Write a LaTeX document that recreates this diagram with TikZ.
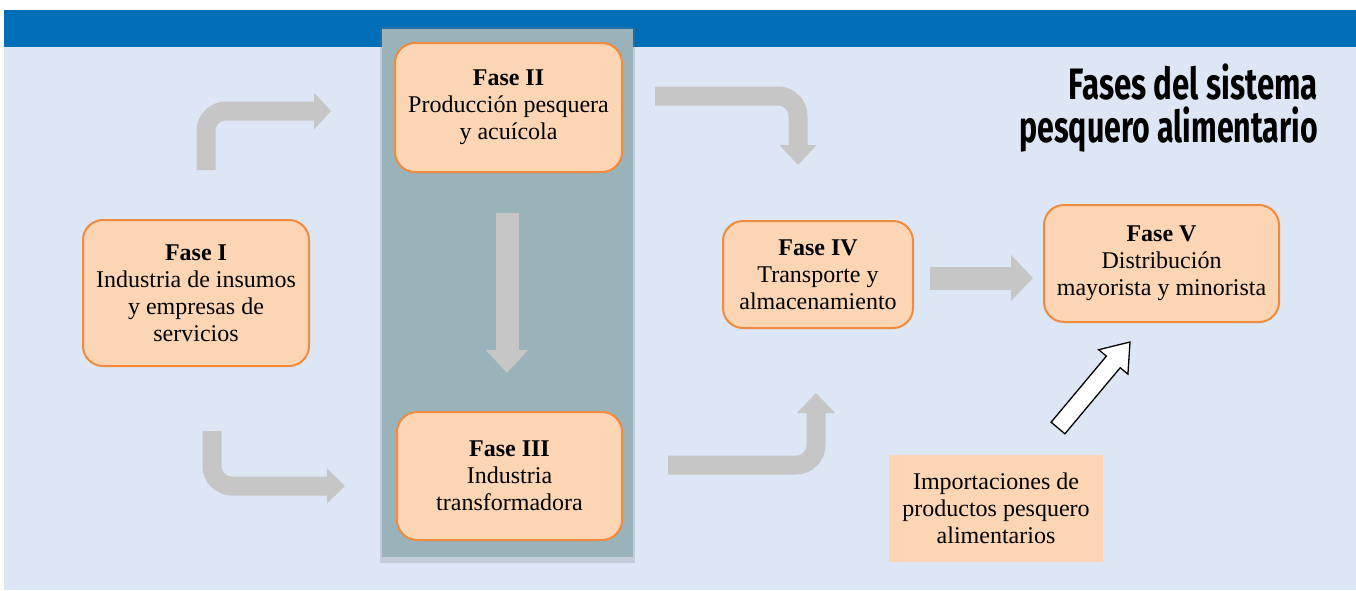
\documentclass[tikz,border=0pt]{standalone}
\usepackage{fontspec}
\setmainfont{Liberation Serif}
\newfontfamily\titlefont{Fira Sans}
\usetikzlibrary{arrows.meta,shadows}
\definecolor{bandblue}{HTML}{006DB7}
\definecolor{bgblue}{HTML}{DCE6F5}
\definecolor{panelgray}{HTML}{9AB2BA}
\definecolor{arrowgray}{HTML}{C6C6C6}
\definecolor{peach}{HTML}{FCD5B4}
\definecolor{orangeline}{HTML}{F08A3C}
\tikzset{
  phase/.style={draw=orangeline, line width=2pt, fill=peach, rounded corners=20pt,
    align=center, inner sep=0pt, font=\fontsize{24}{27}\selectfont},
  plainbox/.style={fill=peach, align=center, inner sep=0pt, font=\fontsize{24}{27}\selectfont},
  grayarrow/.style={draw=arrowgray, line width=#1, rounded corners=20pt},
  grayarrow/.default=19pt,
  titletext/.style={anchor=base east, inner sep=0pt, font=\titlefont\bfseries\fontsize{44}{44}\selectfont}
}
\begin{document}
\begin{tikzpicture}[x=1pt,y=-1pt]
\useasboundingbox (0,0) rectangle (1356,590);
\fill[white] (0,0) rectangle (1356,590);
\fill[bgblue] (4,10) rectangle (1356,590);
\fill[bandblue] (4,10) rectangle (1356,47);
% panel
\node[fill=panelgray, minimum width=251pt, minimum height=528pt, inner sep=0pt,
  drop shadow={opacity=0.25, shadow xshift=0pt, shadow yshift=-2pt, shadow scale=1.015}] (panel) at (507.5,293) {};
% title
\node[titletext] (t1) at (1318,99) {\scalebox{0.71}[1]{Fases del sistema}};
\node[titletext] (t2) at (1318,142) {\scalebox{0.69}[1]{pesquero alimentario}};
% boxes
\node[phase, minimum width=226pt, minimum height=146pt] (f1) at (196,293)
  {\textbf{Fase I}\\Industria de insumos\\y empresas de\\servicios};
\node[phase, minimum width=227pt, minimum height=129pt] (f2) at (508.5,107.5)
  {\textbf{Fase II}\\Producción pesquera\\y acuícola};
\node[phase, minimum width=225pt, minimum height=128pt] (f3) at (509.5,476)
  {\textbf{Fase III}\\Industria\\transformadora};
\node[phase, minimum width=190pt, minimum height=107pt] (f4) at (818,274.5)
  {\textbf{Fase IV}\\Transporte y\\almacenamiento};
\node[phase, minimum width=235pt, minimum height=117pt] (f5) at (1161.5,263.5)
  {\textbf{Fase V}\\Distribución\\mayorista y minorista};
\node[plainbox, minimum width=214pt, minimum height=107pt] (imp) at (996,508.5)
  {Importaciones de\\productos pesquero\\alimentarios};
% arrow coordinates
\coordinate (a1s) at (206,170); \coordinate (a1c) at (206,111); \coordinate (a1e) at (331,111);
\coordinate (a2s) at (212,431); \coordinate (a2c) at (212,486); \coordinate (a2e) at (345,486);
\coordinate (a3s) at (655,96);  \coordinate (a3c) at (798,96);  \coordinate (a3e) at (798,165);
\coordinate (a4s) at (668,465); \coordinate (a4c) at (816,465); \coordinate (a4e) at (816,393);
\coordinate (a5s) at (507,213); \coordinate (a5e) at (507,373);
\coordinate (a6s) at (930,278); \coordinate (a6e) at (1033,278);
\draw[grayarrow, -{Triangle[length=17pt,width=36pt]}] (a1s) -- (a1c) -- (a1e);
\draw[grayarrow, -{Triangle[length=18pt,width=34pt]}] (a2s) -- (a2c) -- (a2e);
\draw[grayarrow, -{Triangle[length=20pt,width=36pt]}] (a3s) -- (a3c) -- (a3e);
\draw[grayarrow, -{Triangle[length=20pt,width=37pt]}] (a4s) -- (a4c) -- (a4e);
\draw[grayarrow=23pt, -{Triangle[length=23pt,width=41pt]}] (a5s) -- (a5e);
\draw[grayarrow=23pt, -{Triangle[length=22pt,width=45pt]}] (a6s) -- (a6e);
% white import arrow
\draw[black, line width=1.3pt, fill=white, line join=miter]
  (1064.9,433.8) -- (1120.2,367.7) -- (1127.9,374.1) -- (1130,342)
  -- (1098.7,349.7) -- (1106.4,356.1) -- (1051.1,422.2) -- cycle;
\end{tikzpicture}
\end{document}
